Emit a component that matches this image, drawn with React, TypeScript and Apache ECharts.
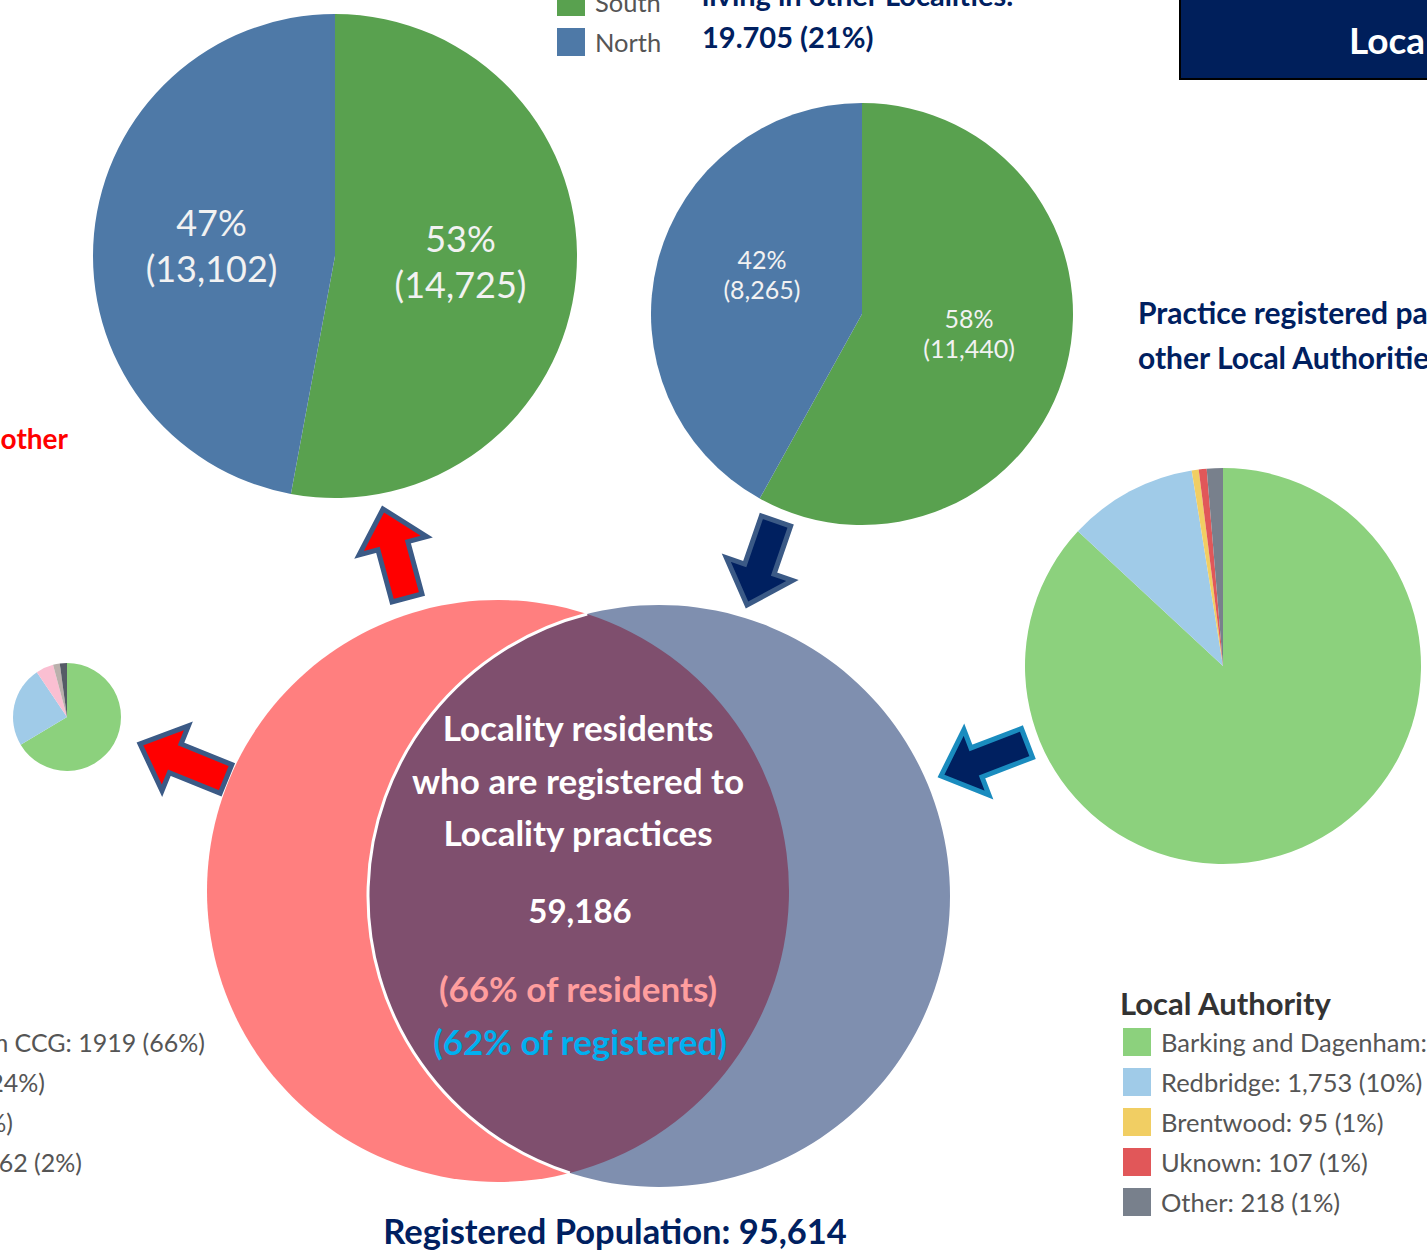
import React, { useEffect, useRef } from "react";
import * as echarts from "echarts";

const W = 1427;
const H = 1256;
const BODY = "Lato, 'Open Sans', 'DejaVu Sans', sans-serif";
const NAVY = "#002060";

// ---- data ----
const regionNames = ["South", "North"];
const regionColors = ["#59A14F", "#4E79A7"];
const residentsElsewhereValues = [14725, 13102];
const otherLocalityValues = [11440, 8265];
const otherLocalityHeadline = ["living in other Localities:", "19.705 (21%)"];

const laNames = ["Barking and Dagenham", "Redbridge", "Brentwood", "Uknown", "Other"];
const laValues = [14430, 1753, 95, 107, 218];
const laPctLabels = ["87%", "10%", "1%", "1%", "1%"];
const laColors = ["#8CD17D", "#A0CBE8", "#F1CE63", "#E15759", "#78808C"];

const ccgValues = [1919, 698, 152, 58, 62];
const ccgColors = ["#8CD17D", "#A0CBE8", "#FABFD2", "#BAB0AC", "#555B66"];
const ccgLabels = [
  "Barking and Dagenham CCG: 1919 (66%)",
  "Redbridge CCG: 698 (24%)",
  "West Essex CCG: 152 (5%)",
  "Basildon and Brentwood CCG: 62 (2%)",
];

const vennLines = ["Locality residents", "who are registered to", "Locality practices"];
const vennOverlap = "59,186";
const vennResidentsPct = "(66% of residents)";
const vennRegisteredPct = "(62% of registered)";
const registeredPopulation = "Registered Population: 95,614";

const fmt = (v: number) => v.toLocaleString("en-US");

// ---- venn geometry ----
const RED = { cx: 498, cy: 891, r: 291 };
const BLUE = { cx: 659, cy: 896, r: 291 };

function lensInfo() {
  const dx = BLUE.cx - RED.cx;
  const dy = BLUE.cy - RED.cy;
  const d = Math.hypot(dx, dy);
  const a = (RED.r * RED.r - BLUE.r * BLUE.r + d * d) / (2 * d);
  const h = Math.sqrt(RED.r * RED.r - a * a);
  const ux = dx / d;
  const uy = dy / d;
  const mx = RED.cx + ux * a;
  const my = RED.cy + uy * a;
  let p1 = [mx + uy * h, my - ux * h];
  let p2 = [mx - uy * h, my + ux * h];
  if (p1[1] > p2[1]) {
    const t = p1;
    p1 = p2;
    p2 = t;
  }
  const f = (n: number) => n.toFixed(2);
  const path =
    `M ${f(p1[0])} ${f(p1[1])} A ${BLUE.r} ${BLUE.r} 0 0 0 ${f(p2[0])} ${f(p2[1])} ` +
    `A ${RED.r} ${RED.r} 0 0 0 ${f(p1[0])} ${f(p1[1])} Z`;
  const aStart = Math.atan2(p2[1] - BLUE.cy, p2[0] - BLUE.cx);
  let aEnd = Math.atan2(p1[1] - BLUE.cy, p1[0] - BLUE.cx);
  if (aEnd < aStart) aEnd += Math.PI * 2;
  return { path, aStart, aEnd };
}

const LENS = lensInfo();
echarts.graphic.registerShape("vennLens", echarts.graphic.extendPath(LENS.path, {}) as any);

function arrow(tail: number[], tip: number[], sh: number, hh: number, hl: number) {
  const dx = tip[0] - tail[0];
  const dy = tip[1] - tail[1];
  const L = Math.hypot(dx, dy);
  const ux = dx / L, uy = dy / L;
  const nx = -uy, ny = ux;
  const bx = tip[0] - ux * hl, by = tip[1] - uy * hl;
  return [
    [tail[0] + nx * sh, tail[1] + ny * sh],
    [bx + nx * sh, by + ny * sh],
    [bx + nx * hh, by + ny * hh],
    [tip[0], tip[1]],
    [bx - nx * hh, by - ny * hh],
    [bx - nx * sh, by - ny * sh],
    [tail[0] - nx * sh, tail[1] - ny * sh],
  ];
}

function text(x: number, y: number, t: string, opts: any = {}) {
  return {
    type: "text",
    x,
    y,
    z: 30,
    silent: true,
    style: {
      text: t,
      fill: opts.fill || NAVY,
      fontSize: opts.size || 28,
      fontWeight: opts.weight || "bold",
      fontFamily: opts.family || BODY,
      textAlign: opts.align || "left",
      verticalAlign: "middle",
    },
  };
}

function buildOption() {
  const g: any[] = [];
  g.push({ type: "circle", z: 1, silent: true, shape: { cx: RED.cx, cy: RED.cy, r: RED.r }, style: { fill: "#FF7F7F" } });
  g.push({ type: "circle", z: 1, silent: true, shape: { cx: BLUE.cx, cy: BLUE.cy, r: BLUE.r }, style: { fill: "#7F8FAF" } });
  g.push({ type: "vennLens", z: 2, silent: true, x: 0, y: 0, style: { fill: "#7F4F6E" } });
  g.push({
    type: "arc", z: 3, silent: true,
    shape: { cx: BLUE.cx, cy: BLUE.cy, r: BLUE.r, startAngle: LENS.aStart, endAngle: LENS.aEnd, clockwise: true },
    style: { stroke: "#FFFFFF", lineWidth: 3, fill: "none" },
  });
  const cx = 578;
  vennLines.forEach((l, i) => g.push(text(cx, 727 + i * 52.5, l, { fill: "#FFFFFF", size: 35, align: "center" })));
  g.push(text(580, 910, vennOverlap, { fill: "#FFFFFF", size: 33, align: "center" }));
  g.push(text(cx, 988, vennResidentsPct, { fill: "#FF9E9E", size: 35, align: "center" }));
  g.push(text(580, 1041, vennRegisteredPct, { fill: "#00B0F0", size: 35, align: "center" }));
  g.push(text(615, 1230, registeredPopulation, { fill: NAVY, size: 34.5, align: "center" }));

  const arrows = [
    { tail: [407, 598], tip: [383, 509], fill: "#FF0000", stroke: "#3B5A86" },
    { tail: [776, 521], tip: [747, 605], fill: NAVY, stroke: "#3B5A86" },
    { tail: [1027, 743], tip: [941, 776], fill: NAVY, stroke: "#1A8CBF" },
    { tail: [226, 779], tip: [140, 744], fill: "#FF0000", stroke: "#3B5A86" },
  ];
  arrows.forEach((a) =>
    g.push({
      type: "polygon", z: 20, silent: true,
      shape: { points: arrow(a.tail, a.tip, 15.5, 35, 38) },
      style: { fill: a.fill, stroke: a.stroke, lineWidth: 5, lineJoin: "miter" },
    })
  );

  g.push({ type: "rect", z: 5, silent: true, shape: { x: 1180, y: -10, width: 270, height: 89 }, style: { fill: "#001F5B", stroke: "#000000", lineWidth: 2 } });
  g.push(text(1349, 39, "Locality", { fill: "#FFFFFF", size: 37 }));
  g.push(text(702, -6, otherLocalityHeadline[0], { size: 29 }));
  g.push(text(702, 36, otherLocalityHeadline[1], { size: 29 }));
  g.push(text(1138, 312, "Practice registered patients living in", { size: 30 }));
  g.push(text(1138, 357, "other Local Authorities", { size: 30 }));
  g.push(text(68, 438, "Locality residents registered to other", { fill: "#FF0000", size: 28, align: "right" }));
  g.push(text(1120, 1003, "Local Authority", { fill: "#333333", size: 31 }));

  const ccgEnds = [205, 45, 13, 82];
  ccgLabels.forEach((l, i) =>
    g.push(text(ccgEnds[i], 1042 + i * 40, l, { fill: "#555555", size: 25, weight: "normal", align: "right" }))
  );

  const labelBase = {
    show: true,
    position: "inside",
    fontFamily: BODY,
    color: "#F2F2F2",
  };

  return {
    animation: false,
    backgroundColor: "#FFFFFF",
    legend: [
      {
        left: 557, top: -12, padding: 0, orient: "vertical", data: regionNames,
        itemWidth: 28, itemHeight: 28, itemGap: 12, icon: "rect", selectedMode: false,
        textStyle: { fontSize: 25.5, color: "#555555", fontFamily: BODY, padding: [0, 0, 0, 5] },
      },
      {
        left: 1123, top: 1028, padding: 0, orient: "vertical", data: laNames,
        itemWidth: 28, itemHeight: 28, itemGap: 12, icon: "rect", selectedMode: false,
        textStyle: { fontSize: 25.5, color: "#555555", fontFamily: BODY, padding: [0, 0, 0, 5] },
        formatter: (name: string) => {
          const i = laNames.indexOf(name);
          return `${name}: ${fmt(laValues[i])} (${laPctLabels[i]})`;
        },
      },
    ],
    series: [
      {
        type: "pie", center: [335, 256], radius: [0, 242], startAngle: 90, clockwise: true,
        silent: true, avoidLabelOverlap: false, z: 5,
        data: regionNames.map((n, i) => ({ name: n, value: residentsElsewhereValues[i], itemStyle: { color: regionColors[i] } })),
        label: { ...labelBase, fontSize: 36, lineHeight: 46, formatter: (p: any) => `${Math.round(p.percent)}%\n(${fmt(p.value)})` },
        labelLayout: (p: any) => ({ dy: p.dataIndex === 0 ? -6 : 0, dx: p.dataIndex === 0 ? 2 : 0 }),
        labelLine: { show: false },
      },
      {
        type: "pie", center: [862, 314], radius: [0, 211], startAngle: 90, clockwise: true,
        silent: true, avoidLabelOverlap: false, z: 5,
        data: regionNames.map((n, i) => ({ name: n, value: otherLocalityValues[i], itemStyle: { color: regionColors[i] } })),
        label: { ...labelBase, fontSize: 25, lineHeight: 30, formatter: (p: any) => `${Math.round(p.percent)}%\n(${fmt(p.value)})` },
        labelLayout: (p: any) => ({ dy: p.dataIndex === 0 ? -8 : -13, dx: p.dataIndex === 0 ? 2 : 5 }),
        labelLine: { show: false },
      },
      {
        type: "pie", center: [1223, 666], radius: [0, 198], startAngle: 90, clockwise: true,
        silent: true, avoidLabelOverlap: false, z: 5,
        data: laNames.map((n, i) => ({ name: n, value: laValues[i], itemStyle: { color: laColors[i] } })),
        label: { show: false }, labelLine: { show: false },
      },
      {
        type: "pie", center: [67, 717], radius: [0, 54], startAngle: 90, clockwise: true,
        silent: true, avoidLabelOverlap: false, z: 5,
        data: ccgValues.map((v, i) => ({ name: "ccg" + i, value: v, itemStyle: { color: ccgColors[i] } })),
        label: { show: false }, labelLine: { show: false },
      },
    ],
    graphic: { elements: g },
  };
}

export default function App() {
  const ref = useRef<HTMLDivElement>(null);
  useEffect(() => {
    document.body.style.margin = "0";
    const chart = echarts.init(ref.current!, null, { renderer: "svg", width: W, height: H });
    chart.setOption(buildOption() as any);
    return () => chart.dispose();
  }, []);
  return <div ref={ref} style={{ position: "absolute", left: 0, top: 0, width: W, height: H, overflow: "hidden" }} />;
}
